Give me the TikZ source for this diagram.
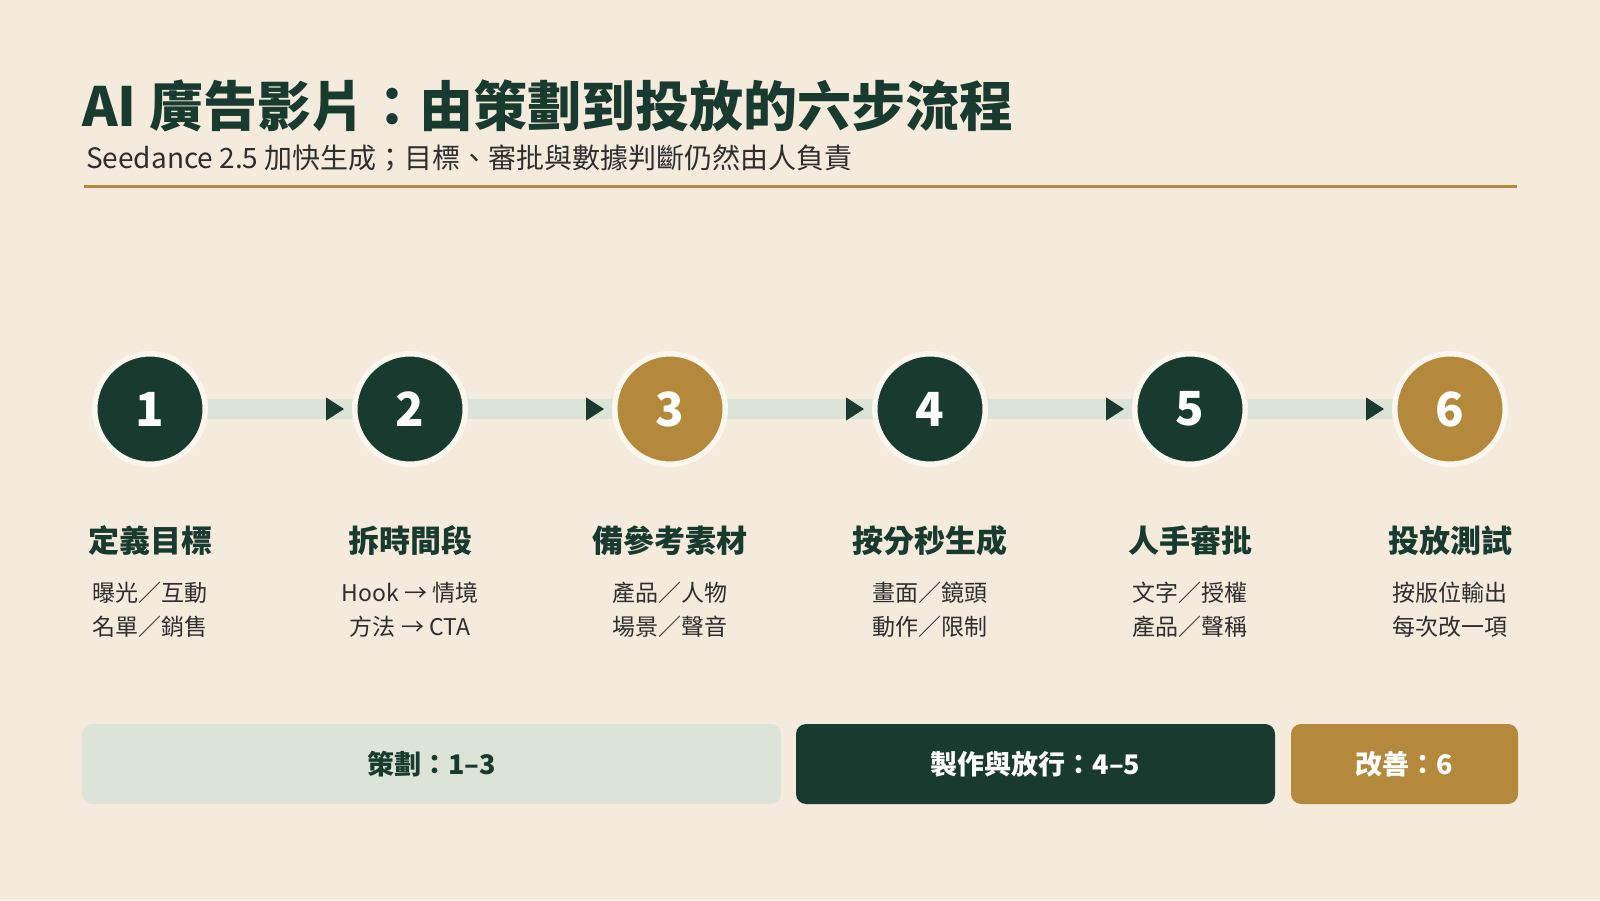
\documentclass[tikz,border=0pt]{standalone}
\usepackage{fontspec}
\usepackage{tikz}
\usetikzlibrary{positioning,arrows.meta,backgrounds}
\setmainfont{Noto Sans CJK TC}
\definecolor{paper}{HTML}{F4EBDD}
\definecolor{ringcol}{HTML}{FBF7EE}
\definecolor{dkgreen}{HTML}{183A2F}
\definecolor{ochre}{HTML}{B5893B}
\definecolor{sage}{HTML}{DCE4D8}
\definecolor{inkgray}{HTML}{2E2E2E}
\tikzset{
  stepdot/.style={circle, draw=ringcol, line width=5.5pt, minimum size=110.5pt, inner sep=0pt,
    text=white, font=\bfseries\fontsize{47}{52}\selectfont},
  steptitle/.style={text=dkgreen, font=\bfseries\fontsize{31}{36}\selectfont},
  stepnote/.style={text=inkgray, align=center, font=\fontsize{23}{34}\selectfont},
  phasebox/.style={rounded corners=10pt, minimum height=80pt, inner sep=0pt,
    font=\bfseries\fontsize{27}{30}\selectfont},
  track/.style={sage, line width=20pt},
  flow/.style={sage, line width=1pt, shorten >=8pt, -{Triangle[length=18pt,width=23pt,color=dkgreen]}}
}

\begin{document}
\begin{tikzpicture}[x=1pt,y=1pt]
\useasboundingbox (0,0) rectangle (1600,900);

% heading
\node[anchor=base west, inner sep=0pt, text=dkgreen, font=\bfseries\fontsize{54}{60}\selectfont] (title) at (82,773) {AI 廣告影片：由策劃到投放的六步流程};
\node[anchor=base west, inner sep=0pt, text=inkgray, font=\fontsize{28}{32}\selectfont] (subtitle) at (86,731) {Seedance 2.5 加快生成；目標、審批與數據判斷仍然由人負責};
\draw[ochre, line width=3pt] (84,713) -- (1517,713);

% steps
\node[stepdot, fill=dkgreen] (s1) at (150,491) {1};
\node[stepdot, fill=dkgreen] (s2) at (410,491) {2};
\node[stepdot, fill=ochre] (s3) at (670,491) {3};
\node[stepdot, fill=dkgreen] (s4) at (930,491) {4};
\node[stepdot, fill=dkgreen] (s5) at (1190,491) {5};
\node[stepdot, fill=ochre] (s6) at (1450,491) {6};

\begin{pgfonlayer}{background}
\fill[paper] (0,0) rectangle (1600,900);
\draw[track] (s1.center) -- (s6.center);
\end{pgfonlayer}
\draw[flow] (s1) -- (s2);
\draw[flow] (s2) -- (s3);
\draw[flow] (s3) -- (s4);
\draw[flow] (s4) -- (s5);
\draw[flow] (s5) -- (s6);

\node[steptitle] (t1) at (150,359) {定義目標};
\node[steptitle] (t2) at (410,359) {拆時間段};
\node[steptitle] (t3) at (670,359) {備參考素材};
\node[steptitle] (t4) at (930,359) {按分秒生成};
\node[steptitle] (t5) at (1190,359) {人手審批};
\node[steptitle] (t6) at (1450,359) {投放測試};

\node[stepnote] (n1) at (150,290) {曝光／互動\\名單／銷售};
\node[stepnote] (n2) at (410,290) {Hook → 情境\\方法 → CTA};
\node[stepnote] (n3) at (670,290) {產品／人物\\場景／聲音};
\node[stepnote] (n4) at (930,290) {畫面／鏡頭\\動作／限制};
\node[stepnote] (n5) at (1190,290) {文字／授權\\產品／聲稱};
\node[stepnote] (n6) at (1450,290) {按版位輸出\\每次改一項};

% phases
\node[phasebox, fill=sage, text=dkgreen, minimum width=699pt] (plan) at (431.5,136) {策劃：1–3};
\node[phasebox, fill=dkgreen, text=white, minimum width=479pt] (make) at (1035.5,136) {製作與放行：4–5};
\node[phasebox, fill=ochre, text=white, minimum width=227pt] (improve) at (1404.5,136) {改善：6};
\end{tikzpicture}
\end{document}
